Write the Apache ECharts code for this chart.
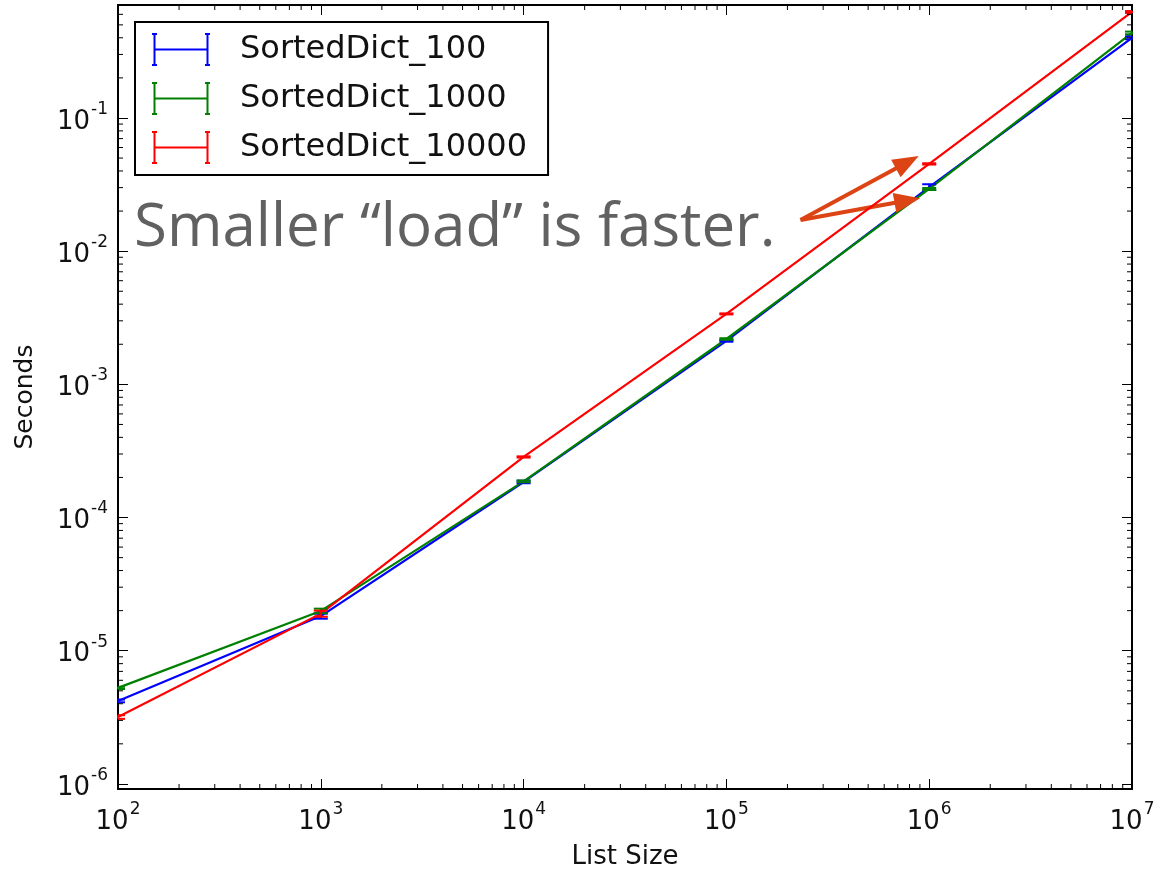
<!DOCTYPE html>
<html>
<head>
<meta charset="utf-8">
<script src="https://cdn.jsdelivr.net/npm/echarts@6/dist/echarts.min.js"></script>
<style>
  html, body { margin: 0; padding: 0; background: #fff; }
  #chart { width: 1159px; height: 872px; }
</style>
</head>
<body>
<div id="chart"></div>
<script>
var listSizes = [1e2, 1e3, 1e4, 1e5, 1e6, 1e7];

var seriesNames = ['SortedDict_100', 'SortedDict_1000', 'SortedDict_10000'];
var seriesColors = ['#0000ff', '#008000', '#ff0000'];

// mean seconds per list size
var secs100 = [4.2e-6, 1.82e-5, 1.85e-4, 2.12e-3, 0.0303, 0.40];
var secs1000 = [5.26e-6, 1.99e-5, 1.87e-4, 2.19e-3, 0.0293, 0.435];
var secs10000 = [3.18e-6, 1.9e-5, 2.85e-4, 3.38e-3, 0.0452, 0.625];

// error bar half-heights
var err100 = [0.1e-6, 0.8e-6, 4e-6, 3e-5, 1.5e-3, 0.01];
var err1000 = [0.1e-6, 0.8e-6, 3e-6, 3e-5, 5e-4, 0.01];
var err10000 = [0.1e-6, 1e-6, 3e-6, 3e-5, 5e-4, 0.01];

var yMin = 9.16e-7, yMax = 0.705;
var xMin = 1e2, xMax = 1e7;

var note = 'Smaller \u201cload\u201d is faster.';
// arrows: from -> to, in data units
var arrowFrom = [2.32e5, 0.01714];
var arrowTo = [[7.8e5, 0.0465], [7.8e5, 0.0240]];

var allSecs = [secs100, secs1000, secs10000];
var allErr = [err100, err1000, err10000];

function powLabel(v) {
  var e = Math.log10(v);
  var r = Math.round(e);
  if (Math.abs(e - r) > 1e-6) return '';
  return '{b|10}{s|' + r + '}';
}

function minorValues(lo, hi) {
  var out = [];
  for (var k = Math.floor(Math.log10(lo)); k <= Math.ceil(Math.log10(hi)); k++) {
    for (var m = 2; m <= 9; m++) {
      var v = m * Math.pow(10, k);
      if (v > lo && v < hi) out.push(v);
    }
  }
  return out;
}
var xMinor = minorValues(xMin, xMax);
var yMinor = minorValues(yMin, yMax);

var labelRich = {
  b: { fontFamily: 'DejaVu Sans', fontSize: 26, color: '#111', lineHeight: 34, verticalAlign: 'bottom' },
  s: { fontFamily: 'DejaVu Sans', fontSize: 17, color: '#111', lineHeight: 34, verticalAlign: 'top', padding: [0, 0, 14, 1] }
};

var chart = echarts.init(document.getElementById('chart'));

var series = [];
seriesNames.forEach(function (name, i) {
  series.push({
    name: name,
    type: 'line',
    data: listSizes.map(function (x, j) { return [x, allSecs[i][j]]; }),
    symbol: 'none',
    color: seriesColors[i],
    lineStyle: { width: 2.2, color: seriesColors[i] },
    z: 3 + i,
    silent: true,
    animation: false
  });
  series.push({
    name: name,
    type: 'custom',
    data: listSizes.map(function (x, j) {
      return [x, allSecs[i][j] - allErr[i][j], allSecs[i][j] + allErr[i][j]];
    }),
    encode: { x: 0, y: [1, 2] },
    color: seriesColors[i],
    z: 6 + i,
    silent: true,
    renderItem: function (params, api) {
      var lo = api.coord([api.value(0), api.value(1)]);
      var hi = api.coord([api.value(0), api.value(2)]);
      var cs = params.coordSys;
      var cx = lo[0];
      var l = Math.max(cs.x, cx - 7), r = Math.min(cs.x + cs.width, cx + 7);
      var st = { stroke: seriesColors[i], lineWidth: 2 };
      return {
        type: 'group',
        children: [
          { type: 'line', shape: { x1: cx, y1: lo[1], x2: cx, y2: hi[1] }, style: st },
          { type: 'line', shape: { x1: l, y1: lo[1], x2: r, y2: lo[1] }, style: st },
          { type: 'line', shape: { x1: l, y1: hi[1], x2: r, y2: hi[1] }, style: st }
        ]
      };
    }
  });
});

// minor ticks (matplotlib style, inside, all four sides)
series.push({
  type: 'custom',
  data: xMinor.map(function (v) { return [v, yMin]; }),
  silent: true,
  z: 10,
  renderItem: function (params, api) {
    var p = api.coord([api.value(0), yMin]);
    var cs = params.coordSys;
    var st = { stroke: '#000', lineWidth: 1 };
    return {
      type: 'group',
      children: [
        { type: 'line', shape: { x1: p[0], y1: cs.y + cs.height, x2: p[0], y2: cs.y + cs.height - 5 }, style: st },
        { type: 'line', shape: { x1: p[0], y1: cs.y, x2: p[0], y2: cs.y + 5 }, style: st }
      ]
    };
  }
});
series.push({
  type: 'custom',
  data: yMinor.map(function (v) { return [xMin, v]; }),
  silent: true,
  z: 10,
  renderItem: function (params, api) {
    var p = api.coord([xMin, api.value(1)]);
    var cs = params.coordSys;
    var st = { stroke: '#000', lineWidth: 1 };
    return {
      type: 'group',
      children: [
        { type: 'line', shape: { x1: cs.x, y1: p[1], x2: cs.x + 5, y2: p[1] }, style: st },
        { type: 'line', shape: { x1: cs.x + cs.width, y1: p[1], x2: cs.x + cs.width - 5, y2: p[1] }, style: st }
      ]
    };
  }
});

// annotation arrows
series.push({
  type: 'line',
  data: [],
  silent: true,
  markLine: {
    silent: true,
    symbol: ['none', 'triangle'],
    symbolSize: [20, 26],
    label: { show: false },
    lineStyle: { color: '#dc4414', width: 4, type: 'solid' },
    data: arrowTo.map(function (t) {
      return [{ coord: arrowFrom }, { coord: t }];
    }),
    animation: false
  }
});

var hIcon = 'path://M0,0h5v2h-1.5v29h1.5v2h-5v-2h1.5v-29h-1.5Z' +
  'M3.5,15.5h51v2h-51Z' +
  'M53,0h5v2h-1.5v29h1.5v2h-5v-2h1.5v-29h-1.5Z';

var option = {
  animation: false,
  backgroundColor: '#fff',
  grid: { left: 118, right: 27, top: 5, bottom: 83, containLabel: false, outerBoundsMode: 'none' },
  legend: {
    data: seriesNames,
    orient: 'vertical',
    left: 135,
    top: 22,
    icon: hIcon,
    itemWidth: 58,
    itemHeight: 33,
    itemGap: 16,
    padding: [11, 21, 11, 17],
    backgroundColor: '#fff',
    borderColor: '#000',
    borderWidth: 2,
    borderRadius: 0,
    selectedMode: false,
    textStyle: { fontFamily: 'DejaVu Sans', fontSize: 32, lineHeight: 33, color: '#111', padding: [0, 0, 0, 25] }
  },
  xAxis: [{
    type: 'log',
    logBase: 10,
    min: xMin,
    max: xMax,
    name: 'List Size',
    nameLocation: 'middle',
    nameGap: 55,
    nameMoveOverlap: false,
    nameTextStyle: { fontFamily: 'DejaVu Sans', fontSize: 26, color: '#111' },
    axisLine: { lineStyle: { color: '#000', width: 2 } },
    axisTick: { inside: true, length: 10, lineStyle: { color: '#000', width: 1 } },
    axisLabel: { margin: 12, formatter: powLabel, rich: labelRich, showMinLabel: true, showMaxLabel: true },
    splitLine: { show: false },
    minorTick: { show: false }
  }, {
    type: 'log',
    logBase: 10,
    position: 'top',
    min: xMin,
    max: xMax,
    axisLine: { show: true, onZero: false, lineStyle: { color: '#000', width: 2 } },
    axisTick: { inside: true, length: 10, lineStyle: { color: '#000', width: 1 } },
    axisLabel: { show: false },
    splitLine: { show: false }
  }],
  yAxis: [{
    type: 'log',
    logBase: 10,
    min: yMin,
    max: yMax,
    name: 'Seconds',
    nameLocation: 'middle',
    nameGap: 80,
    nameMoveOverlap: false,
    nameTextStyle: { fontFamily: 'DejaVu Sans', fontSize: 25, color: '#111' },
    axisLine: { lineStyle: { color: '#000', width: 2 } },
    axisTick: { inside: true, length: 10, lineStyle: { color: '#000', width: 1 } },
    axisLabel: { margin: 10, formatter: powLabel, rich: labelRich },
    splitLine: { show: false }
  }, {
    type: 'log',
    logBase: 10,
    position: 'right',
    min: yMin,
    max: yMax,
    axisLine: { show: true, onZero: false, lineStyle: { color: '#000', width: 2 } },
    axisTick: { inside: true, length: 10, lineStyle: { color: '#000', width: 1 } },
    axisLabel: { show: false },
    splitLine: { show: false }
  }],
  graphic: [{
    type: 'text',
    left: 134,
    top: 199,
    z: 100,
    style: {
      text: note,
      fontFamily: 'Open Sans',
      fontWeight: 'normal',
      fontSize: 60,
      fill: '#616161'
    }
  }],
  series: series
};

chart.setOption(option);
</script>
</body>
</html>
